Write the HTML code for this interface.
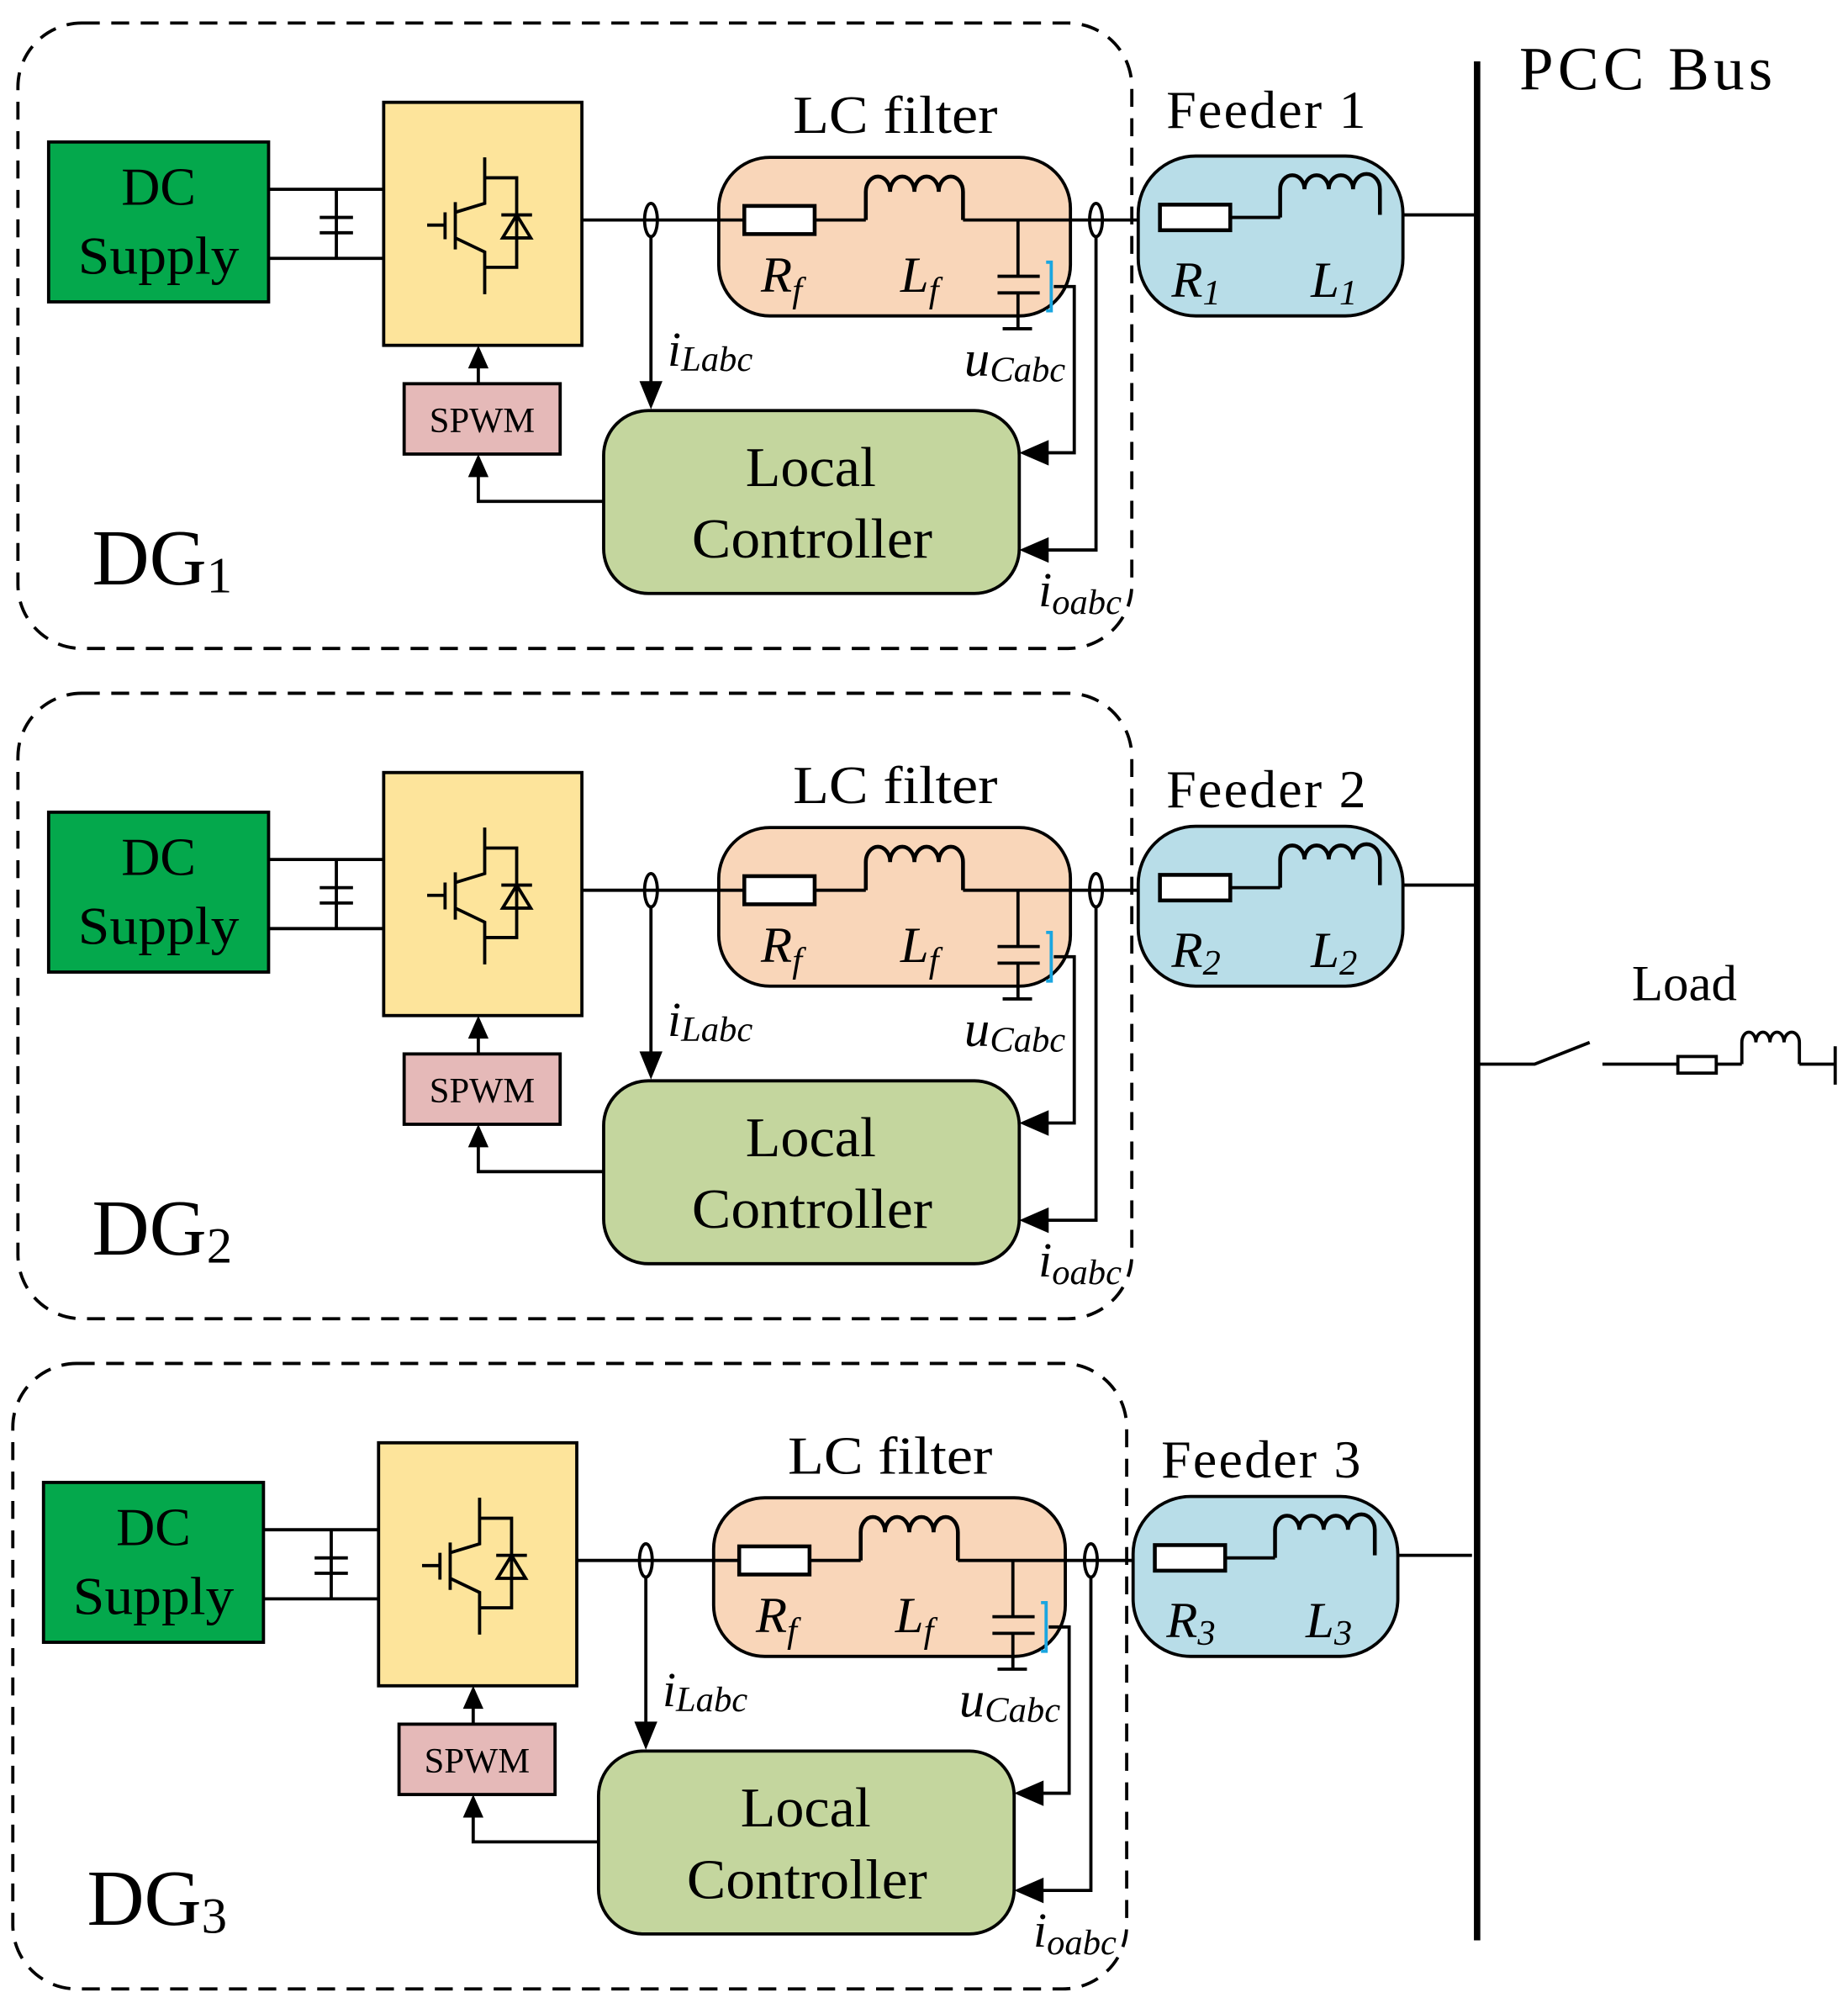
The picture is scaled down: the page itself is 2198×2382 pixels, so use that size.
<!DOCTYPE html>
<html><head><meta charset="utf-8"><style>html,body{margin:0;padding:0;background:#fff}svg{display:block}</style></head>
<body>
<svg width="2198" height="2382" viewBox="0 0 1445 1566" xmlns="http://www.w3.org/2000/svg" font-family="Liberation Serif, serif">
<defs>
<g id="dg">
  <rect x="14" y="18" width="871" height="489" rx="50" fill="none" stroke="#000" stroke-width="2.5" stroke-dasharray="14,9"/>
  <rect x="38" y="111" width="172" height="125" fill="#04a84c" stroke="#000" stroke-width="2.5"/>
  <text x="124" y="160" font-size="42" text-anchor="middle">DC</text>
  <text x="124" y="214" font-size="42" text-anchor="middle" textLength="126" lengthAdjust="spacingAndGlyphs">Supply</text>
  <path d="M210,148H300M210,202H300M263,148V202M250,170H276M250,182H276" stroke="#000" stroke-width="2.5" fill="none"/>
  <rect x="300" y="80" width="155" height="190" fill="#fde49b" stroke="#000" stroke-width="2.5"/>
  <path d="M334,176H348M348,166V187M356,158V195M356,166L379,159V123M356,186L379,197V230M379,139H404V209H379M392,168H416" stroke="#000" stroke-width="2.5" fill="none"/>
  <path d="M404,168L393,186H415Z" fill="none" stroke="#000" stroke-width="2.5"/>
  <rect x="562" y="123" width="275" height="124" rx="40" fill="#f9d6b9" stroke="#000" stroke-width="2.5"/>
  <path d="M455,172H582M637,172H677M753,172H907" stroke="#000" stroke-width="2.5" fill="none"/>
  <rect x="582" y="161" width="55" height="22" fill="#fff" stroke="#000" stroke-width="3"/>
  <path d="M677,172V150a9.5,12 0 0 1 19,0a9.5,12 0 0 1 19,0a9.5,12 0 0 1 19,0a9.5,12 0 0 1 19,0V172" fill="none" stroke="#000" stroke-width="3"/>
  <path d="M796,172V216M796,229V257M780,216H813M780,229H813M784,257H807" stroke="#000" stroke-width="2.5" fill="none"/>
  <path d="M818,205h4v38h-4" stroke="#1aa6e0" stroke-width="2.5" fill="none"/>
  <text x="700" y="104" font-size="42" text-anchor="middle" textLength="160" lengthAdjust="spacingAndGlyphs">LC filter</text>
  <text x="595" y="228" font-size="40" font-style="italic">R<tspan font-size="28" dy="8">f</tspan></text>
  <text x="704" y="228" font-size="40" font-style="italic">L<tspan font-size="28" dy="8">f</tspan></text>
  <ellipse cx="509" cy="172" rx="5" ry="13" fill="none" stroke="#000" stroke-width="2.5"/>
  <ellipse cx="857" cy="172" rx="5" ry="13" fill="none" stroke="#000" stroke-width="2.5"/>
  <path d="M509,185V300M824,224H840V354H818M857,185V430H818" stroke="#000" stroke-width="2.5" fill="none"/>
  <path d="M509,320L500,298H518Z M797,354L820,344V364Z M797,430L820,420V440Z" fill="#000"/>
  <text x="522" y="286" font-size="38" font-style="italic">i<tspan font-size="28" dy="4">Labc</tspan></text>
  <text x="754" y="294" font-size="40" font-style="italic">u<tspan font-size="28" dy="4">Cabc</tspan></text>
  <text x="812" y="474" font-size="38" font-style="italic">i<tspan font-size="28" dy="6">oabc</tspan></text>
  <rect x="316" y="300" width="122" height="55" fill="#e5b9b8" stroke="#000" stroke-width="2.5"/>
  <text x="377" y="338" font-size="28" text-anchor="middle">SPWM</text>
  <path d="M374,300V285M472,392H374V372" stroke="#000" stroke-width="2.5" fill="none"/>
  <path d="M374,270L366,288H382Z M374,355L366,373H382Z" fill="#000"/>
  <rect x="472" y="321" width="325" height="143" rx="35" fill="#c4d69e" stroke="#000" stroke-width="2.5"/>
  <text x="634" y="380" font-size="44" text-anchor="middle" textLength="102" lengthAdjust="spacingAndGlyphs">Local</text>
  <text x="635" y="436" font-size="44" text-anchor="middle" textLength="188" lengthAdjust="spacingAndGlyphs">Controller</text>
  <rect x="890" y="122" width="207" height="125" rx="45" fill="#b8dde8" stroke="#000" stroke-width="2.5"/>
  <path d="M962,170H1001M1097,168H1155" stroke="#000" stroke-width="2.5" fill="none"/>
  <rect x="907" y="160" width="55" height="20" fill="#fff" stroke="#000" stroke-width="3"/>
  <path d="M1001,170V148a9.5,11 0 0 1 19,0a9.5,11 0 0 1 19,0a9.5,11 0 0 1 19,0a10.5,12 0 0 1 21,0V168" fill="none" stroke="#000" stroke-width="3"/>
</g>
</defs>

<use href="#dg"/>
<use href="#dg" transform="translate(0,524)"/>
<use href="#dg" transform="translate(-4,1048)"/>

<text x="72" y="457" font-size="62">DG<tspan font-size="40" dy="6">1</tspan></text>
<text x="72" y="981" font-size="62">DG<tspan font-size="40" dy="6">2</tspan></text>
<text x="68" y="1505" font-size="62">DG<tspan font-size="40" dy="6">3</tspan></text>

<text x="912" y="100" font-size="42" textLength="156" lengthAdjust="spacing">Feeder 1</text>
<text x="912" y="631" font-size="42" textLength="156" lengthAdjust="spacing">Feeder 2</text>
<text x="908" y="1155" font-size="42" textLength="156" lengthAdjust="spacing">Feeder 3</text>

<g font-size="40" font-style="italic">
<text x="916" y="232">R<tspan font-size="28" dy="6">1</tspan></text>
<text x="1025" y="232">L<tspan font-size="28" dy="6">1</tspan></text>
<text x="916" y="756">R<tspan font-size="28" dy="6">2</tspan></text>
<text x="1025" y="756">L<tspan font-size="28" dy="6">2</tspan></text>
<text x="912" y="1280">R<tspan font-size="28" dy="6">3</tspan></text>
<text x="1021" y="1280">L<tspan font-size="28" dy="6">3</tspan></text>
</g>

<line x1="1155" y1="48" x2="1155" y2="1517" stroke="#000" stroke-width="5"/>
<text x="1188" y="70" font-size="48" textLength="198" lengthAdjust="spacing">PCC Bus</text>

<text x="1276" y="782" font-size="40">Load</text>
<path d="M1155,832H1200L1243,815M1253,832H1312M1342,832H1362M1407,832H1435M1435,818V848" stroke="#000" stroke-width="2.5" fill="none"/>
<rect x="1312" y="826" width="30" height="13" fill="#fff" stroke="#000" stroke-width="2.5"/>
<path d="M1362,832V815a5.5,8 0 0 1 11,0a5.5,8 0 0 1 11,0a5.5,8 0 0 1 11,0a6,8 0 0 1 12,0V832" fill="none" stroke="#000" stroke-width="2.5"/>
</svg>
</body></html>
